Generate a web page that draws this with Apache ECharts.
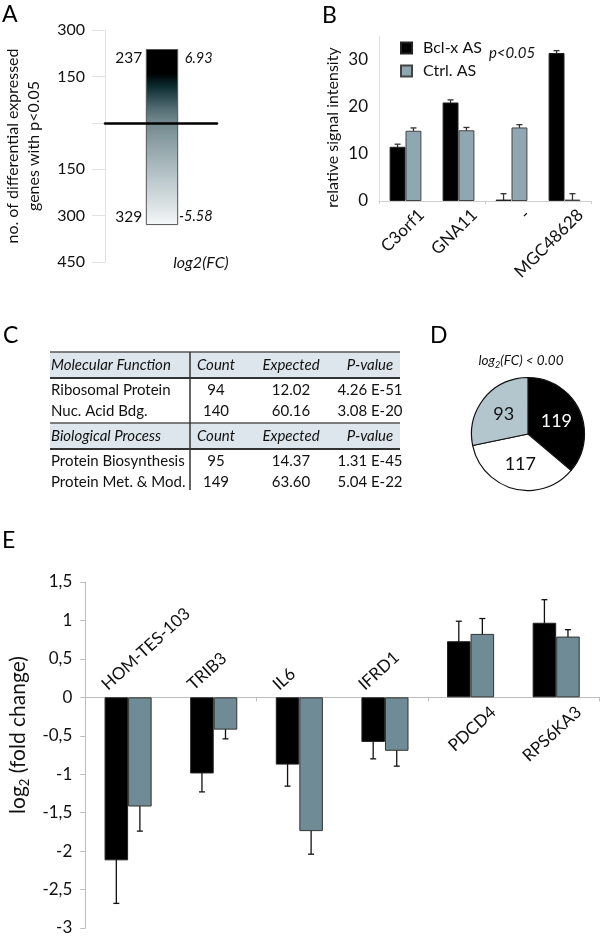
<!DOCTYPE html>
<html><head><meta charset="utf-8">
<script src="https://cdn.jsdelivr.net/npm/echarts@6/dist/echarts.min.js"></script>
<style>html,body{margin:0;padding:0;background:#fff}#c{width:600px;height:938px}</style>
</head><body><div id="c"></div>
<script>
// ---------- Panel A data ----------
const aCategories = ['log2(FC)'];
const aUp = [237];
const aDown = [-329];
const aFcLabels = ['6.93', '-5.58'];

// ---------- Panel B data ----------
const bCategories = ['C3orf1', 'GNA11', '-', 'MGC48628'];
const bBcl = [11.5, 20.9, 0.3, 31.4];
const bBclErr = [0.55, 0.55, 1.25, 0.5];
const bCtrl = [14.9, 15.0, 15.6, 0.3];
const bCtrlErr = [0.6, 0.6, 0.6, 1.25];
const bSeriesNames = ['Bcl-x AS', 'Ctrl. AS'];

// ---------- Panel C data ----------
const cHeaders = [
  ['Molecular Function', 'Count', 'Expected', 'P-value'],
  ['Biological Process', 'Count', 'Expected', 'P-value']
];
const cRowsMF = [
  ['Ribosomal Protein', '94', '12.02', '4.26 E-51'],
  ['Nuc. Acid Bdg.', '140', '60.16', '3.08 E-20']
];
const cRowsBP = [
  ['Protein Biosynthesis', '95', '14.37', '1.31 E-45'],
  ['Protein Met. & Mod.', '149', '63.60', '5.04 E-22']
];

// ---------- Panel D data ----------
const dValues = [119, 117, 93];

// ---------- Panel E data ----------
const eCategories = ['HOM-TES-103', 'TRIB3', 'IL6', 'IFRD1', 'PDCD4', 'RPS6KA3'];
const eBcl = [-2.12, -0.99, -0.875, -0.58, 0.73, 0.97];
const eBclErr = [0.56, 0.24, 0.28, 0.22, 0.26, 0.30];
const eCtrl = [-1.42, -0.42, -1.74, -0.695, 0.825, 0.79];
const eCtrlErr = [0.32, 0.12, 0.30, 0.20, 0.20, 0.09];

// ---------- drawing ----------
const FONT = 'Lato, "Noto Sans", sans-serif';
const chart = echarts.init(document.getElementById('c'));

const aGrad = new echarts.graphic.LinearGradient(0, 0, 0, 1, [
  {offset: 0, color: '#000000'},
  {offset: 0.14, color: '#000000'},
  {offset: 0.21, color: '#0a2a2e'},
  {offset: 0.33, color: '#4d686e'},
  {offset: 0.40, color: '#6c8489'},
  {offset: 0.56, color: '#93a6ab'},
  {offset: 0.73, color: '#b9c6ca'},
  {offset: 0.90, color: '#dde4e6'},
  {offset: 1, color: '#f6f8f9'}
]);

function errRender(frac, side, cap, color) {
  return function (params, api) {
    const i = api.value(0), v = api.value(1), e = api.value(2);
    const band = api.size([1, 0])[0];
    const dx = side * band * frac / 2;
    const p0 = api.coord([i, v - e]);
    const p1 = api.coord([i, v + e]);
    const x = p0[0] + dx;
    const st = {stroke: color, lineWidth: 1.3};
    return {type: 'group', children: [
      {type: 'line', shape: {x1: x, y1: p0[1], x2: x, y2: p1[1]}, style: st},
      {type: 'line', shape: {x1: x - cap, y1: p0[1], x2: x + cap, y2: p0[1]}, style: st},
      {type: 'line', shape: {x1: x - cap, y1: p1[1], x2: x + cap, y2: p1[1]}, style: st}
    ]};
  };
}

function txt(x, y, s, opt) {
  opt = opt || {};
  return {type: 'text', x: x, y: y, rotation: opt.rotation || 0, silent: true,
    style: Object.assign({text: s, fontFamily: FONT, fontSize: 15, fill: '#111',
      align: 'left', verticalAlign: 'middle'}, opt.style || {})};
}

// table graphics
const graphics = [];
const cColCenters = [null, 216, 291, 370];
const cTops = [352, 423];
const cRowSets = [cRowsMF, cRowsBP];
cHeaders.forEach(function (hdr, s) {
  const top = cTops[s];
  graphics.push({type: 'rect', shape: {x: 50, y: top, width: 350, height: 26}, style: {fill: '#dde6ec'}, silent: true});
  graphics.push({type: 'line', shape: {x1: 50, y1: top, x2: 400, y2: top}, style: {stroke: '#555', lineWidth: 1.5}, silent: true});
  graphics.push({type: 'line', shape: {x1: 50, y1: top + 26, x2: 400, y2: top + 26}, style: {stroke: '#333', lineWidth: 1.8}, silent: true});
  hdr.forEach(function (t, c) {
    graphics.push(txt(c === 0 ? 51 : cColCenters[c], top + 13, t,
      {style: {align: c === 0 ? 'left' : 'center', fontStyle: 'italic', fontSize: 15}}));
  });
  cRowSets[s].forEach(function (row, r) {
    row.forEach(function (t, c) {
      graphics.push(txt(c === 0 ? 51 : cColCenters[c], top + 38 + r * 21, t,
        {style: {align: c === 0 ? 'left' : 'center', fontSize: 15}}));
    });
  });
});
graphics.push({type: 'line', shape: {x1: 190, y1: 352, x2: 190, y2: 490}, style: {stroke: '#333', lineWidth: 1.5}, silent: true});

// panel letters
[['A', 2, 15], ['B', 322, 16], ['C', 3, 336], ['D', 430, 336], ['E', 2, 541]].forEach(function (l) {
  graphics.push(txt(l[1], l[2], l[0], {style: {fontSize: 23, fill: '#000'}}));
});
graphics.push(txt(201, 263, 'log2(FC)', {style: {align: 'center', fontStyle: 'italic', fontSize: 16}}));
graphics.push(txt(512, 53, 'p<0.05', {style: {align: 'center', fontStyle: 'italic', fontSize: 15}}));
graphics.push({type: 'text', x: 521, y: 361, silent: true, style: {
  text: '{a|log}{s|2}{a|(FC) < 0.00}', align: 'center', verticalAlign: 'middle',
  rich: {
    a: {fontFamily: FONT, fontSize: 13.5, fontStyle: 'italic', fill: '#111', lineHeight: 18, verticalAlign: 'middle'},
    s: {fontFamily: FONT, fontSize: 9, fontStyle: 'italic', fill: '#111', lineHeight: 10, verticalAlign: 'bottom'}
  }}});

const lightAxis = {lineStyle: {color: '#cfcfcf', width: 1}};

function catLabelRender(names, rot, size, negFn) {
  return function (params, api) {
    const i = api.value(0);
    const neg = negFn(api.value(1));
    const p = api.coord([i, 0]);
    return {type: 'text', x: p[0] + (neg ? -18 : 10), y: p[1] + (neg ? -4 : 5), rotation: rot,
      style: {text: names[i], align: neg ? 'left' : 'right', verticalAlign: neg ? 'bottom' : 'top',
        fontSize: size, fontFamily: FONT, fill: '#111'}};
  };
}

const option = {
  animation: false,
  textStyle: {fontFamily: FONT},
  grid: [
    {left: 105, top: 30, width: 112, height: 232},
    {left: 379, top: 36, width: 212, height: 165},
    {left: 77, top: 582, width: 522, height: 346}
  ],
  legend: {
    data: bSeriesNames, orient: 'vertical', left: 395, top: 35, itemWidth: 11, itemHeight: 11,
    itemGap: 7, icon: 'rect', selectedMode: false,
    textStyle: {fontFamily: FONT, fontSize: 16, color: '#111', padding: [0, 0, 0, 6]}
  },
  xAxis: [
    {type: 'category', gridIndex: 0, data: aCategories, z: 10,
      axisLine: {onZero: true, lineStyle: {color: '#000', width: 2.5}},
      axisTick: {show: false}, axisLabel: {show: false}},
    {type: 'category', gridIndex: 1, data: bCategories,
      axisLine: lightAxis, axisTick: {show: true, lineStyle: {color: '#cfcfcf'}, length: 3},
      axisLabel: {show: false}},
    {type: 'category', gridIndex: 2, data: eCategories,
      axisLine: {onZero: true, lineStyle: {color: '#bdbdbd', width: 1}},
      axisTick: {show: true, length: 4, lineStyle: {color: '#bdbdbd'}},
      axisLabel: {show: false}}
  ],
  yAxis: [
    {type: 'value', gridIndex: 0, min: -450, max: 300, interval: 150,
      name: 'no. of differential expressed\ngenes with p<0.05', nameLocation: 'middle', nameRotate: 90, nameGap: 61,
      nameTextStyle: {fontSize: 16, lineHeight: 21, color: '#111', fontFamily: FONT},
      axisLine: {show: true, lineStyle: {color: '#e2e2e2'}},
      axisTick: {show: true, length: 13, lineStyle: {color: '#e2e2e2'}},
      splitLine: {show: false},
      axisLabel: {fontSize: 16, color: '#111', margin: 20, fontFamily: FONT,
        formatter: function (v) { return v === 0 ? '' : String(Math.abs(v)); }}},
    {type: 'value', gridIndex: 1, min: 0, max: 35, interval: 10,
      name: 'relative signal intensity', nameLocation: 'middle', nameRotate: 90, nameGap: 38,
      nameTextStyle: {fontSize: 16, color: '#111', fontFamily: FONT, padding: [0, 18, 0, 0]},
      axisLine: {show: true, lineStyle: {color: '#e0e0e0'}},
      axisTick: {show: false}, splitLine: {show: false},
      axisLabel: {fontSize: 17, color: '#111', margin: 11, fontFamily: FONT,
        formatter: function (v) { return v % 10 === 0 ? String(v) : ''; }}},
    {type: 'value', gridIndex: 2, min: -3, max: 1.5, interval: 0.5,
      name: '{a|log}{s|2}{a| (fold change)}', nameLocation: 'middle', nameRotate: 90, nameGap: 48,
      nameTextStyle: {padding: [0, 0, 0, 40], rich: {
        a: {fontSize: 21, color: '#111', fontFamily: FONT, lineHeight: 26, verticalAlign: 'middle'},
        s: {fontSize: 13, color: '#111', fontFamily: FONT, lineHeight: 14, verticalAlign: 'bottom'}}},
      axisLine: {show: true, lineStyle: {color: '#bdbdbd'}},
      axisTick: {show: true, length: 5, lineStyle: {color: '#bdbdbd'}},
      splitLine: {show: false},
      axisLabel: {fontSize: 17, color: '#111', margin: 13, fontFamily: FONT,
        formatter: function (v) { return String(v).replace('.', ','); }}}
  ],
  series: [
    {type: 'custom', name: 'A', xAxisIndex: 0, yAxisIndex: 0, silent: true,
      data: [[0, aUp[0], aDown[0]]],
      renderItem: function (params, api) {
        const top = api.coord([api.value(0), api.value(1)]);
        const bot = api.coord([api.value(0), api.value(2)]);
        const w = api.size([1, 0])[0] * 0.28;
        const x = top[0] - w / 2 + 1;
        const ts = {fontFamily: FONT, fontSize: 15.5, fill: '#111', verticalAlign: 'middle'};
        const fs = {fontFamily: FONT, fontSize: 14.5, fill: '#111', verticalAlign: 'middle', fontStyle: 'italic'};
        return {type: 'group', children: [
          {type: 'rect', shape: {x: x, y: top[1], width: w, height: bot[1] - top[1]},
            style: {fill: aGrad, stroke: '#555', lineWidth: 1}},
          {type: 'text', x: x - 4, y: top[1] + 9, style: Object.assign({text: String(aUp[0]), align: 'right'}, ts)},
          {type: 'text', x: x + w + 35, y: top[1] + 9, style: Object.assign({text: aFcLabels[0], align: 'right'}, fs)},
          {type: 'text', x: x - 4, y: bot[1] - 8, style: Object.assign({text: String(Math.abs(aDown[0])), align: 'right'}, ts)},
          {type: 'text', x: x + w + 35, y: bot[1] - 8, style: Object.assign({text: aFcLabels[1], align: 'right'}, fs)}
        ]};
      }},
    {type: 'bar', name: bSeriesNames[0], xAxisIndex: 1, yAxisIndex: 1, data: bBcl,
      barWidth: '30%', barGap: '0%', itemStyle: {color: '#000', borderColor: '#222', borderWidth: 1}, silent: true},
    {type: 'bar', name: bSeriesNames[1], xAxisIndex: 1, yAxisIndex: 1, data: bCtrl,
      barWidth: '30%', barGap: '0%', itemStyle: {color: '#8fa7b0', borderColor: '#444', borderWidth: 1}, silent: true},
    {type: 'custom', name: 'errB1', xAxisIndex: 1, yAxisIndex: 1, clip: true, silent: true,
      data: bBcl.map(function (v, i) { return [i, v, bBclErr[i]]; }),
      renderItem: errRender(0.3, -1, 3, '#333')},
    {type: 'custom', name: 'errB2', xAxisIndex: 1, yAxisIndex: 1, clip: true, silent: true,
      data: bCtrl.map(function (v, i) { return [i, v, bCtrlErr[i]]; }),
      renderItem: errRender(0.3, 1, 3, '#333')},
    {type: 'custom', name: 'labelsB', xAxisIndex: 1, yAxisIndex: 1, silent: true,
      data: bCategories.map(function (c, i) { return [i, 1]; }),
      renderItem: catLabelRender(bCategories, 0.78, 17, function () { return false; })},
    {type: 'pie', name: 'D', center: [528, 434], radius: 56.5, startAngle: 90, clockwise: true,
      silent: true, emphasis: {disabled: true},
      itemStyle: {borderColor: '#111', borderWidth: 1.2},
      label: {position: 'inside', formatter: '{c}', fontSize: 18, fontFamily: FONT, color: '#111'},
      labelLine: {show: false},
      data: [
        {value: dValues[0], itemStyle: {color: '#000'}, label: {color: '#fff'}},
        {value: dValues[1], itemStyle: {color: '#fff'}},
        {value: dValues[2], itemStyle: {color: '#b4c6cd'}}
      ]},
    {type: 'bar', name: 'E Bcl-x AS', xAxisIndex: 2, yAxisIndex: 2, data: eBcl,
      barWidth: '27.5%', barGap: '0%', itemStyle: {color: '#000', borderColor: '#222', borderWidth: 1}, silent: true},
    {type: 'bar', name: 'E Ctrl. AS', xAxisIndex: 2, yAxisIndex: 2, data: eCtrl,
      barWidth: '27.5%', barGap: '0%', itemStyle: {color: '#6f8c96', borderColor: '#333', borderWidth: 1}, silent: true},
    {type: 'custom', name: 'errE1', xAxisIndex: 2, yAxisIndex: 2, silent: true,
      data: eBcl.map(function (v, i) { return [i, v, eBclErr[i]]; }),
      renderItem: errRender(0.275, -1, 3, '#111')},
    {type: 'custom', name: 'errE2', xAxisIndex: 2, yAxisIndex: 2, silent: true,
      data: eCtrl.map(function (v, i) { return [i, v, eCtrlErr[i]]; }),
      renderItem: errRender(0.275, 1, 3, '#111')},
    {type: 'custom', name: 'labelsE', xAxisIndex: 2, yAxisIndex: 2, silent: true,
      data: eCategories.map(function (c, i) { return [i, eBcl[i]]; }),
      renderItem: function (params, api) {
        const i = api.value(0);
        const neg = api.value(1) < 0;
        const p = api.coord([i, 0]);
        return {type: 'text', x: p[0] + (neg ? -18 : 17), y: p[1] + (neg ? -4 : 6), rotation: 0.74,
          style: {text: eCategories[i], align: neg ? 'left' : 'right', verticalAlign: neg ? 'bottom' : 'top',
            fontSize: 17, fontFamily: FONT, fill: '#111'}};
      }}
  ],
  graphic: graphics
};
chart.setOption(option);
</script>
</body></html>
